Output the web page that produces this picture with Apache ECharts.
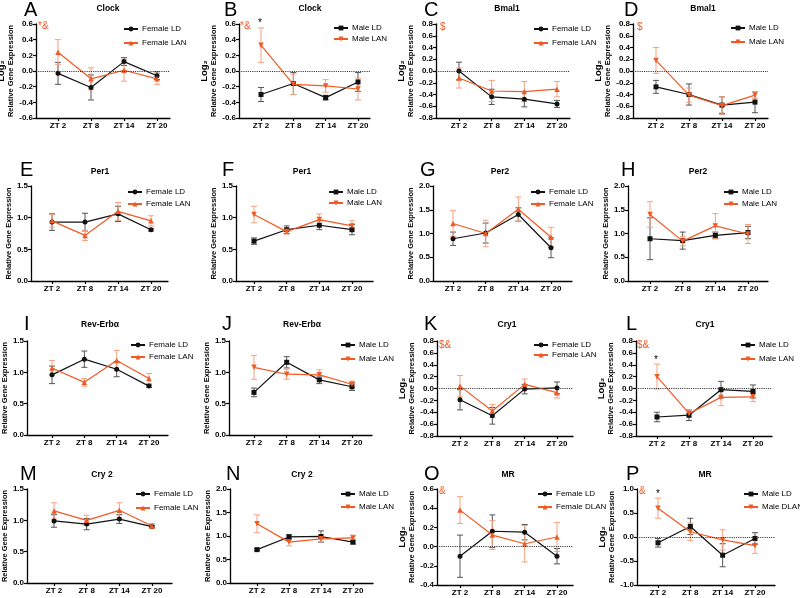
<!DOCTYPE html>
<html><head><meta charset="utf-8">
<script src="https://cdn.jsdelivr.net/npm/echarts@6/dist/echarts.min.js"></script>
<style>html,body{margin:0;padding:0;background:#fff}#c{width:800px;height:598px}</style>
</head><body><div id="c"></div>
<script>
const categories = ['ZT 2', 'ZT 8', 'ZT 14', 'ZT 20'];

// A Clock (female)
const aLD = [-0.03, -0.21, 0.12, -0.06];
const aLDErr = [0.14, 0.16, 0.05, 0.05];
const aLAN = [0.24, -0.10, 0.01, -0.10];
const aLANErr = [0.16, 0.14, 0.14, 0.07];
// B Clock (male)
const bLD = [-0.30, -0.16, -0.34, -0.14];
const bLDErr = [0.09, 0.14, 0.03, 0.12];
const bLAN = [0.33, -0.17, -0.19, -0.23];
const bLANErr = [0.22, 0.13, 0.08, 0.14];
// C Bmal1 (female)
const cLD = [0.00, -0.44, -0.48, -0.56];
const cLDErr = [0.15, 0.13, 0.13, 0.06];
const cLAN = [-0.12, -0.34, -0.35, -0.31];
const cLANErr = [0.17, 0.18, 0.17, 0.13];
// D Bmal1 (male)
const dLD = [-0.27, -0.40, -0.58, -0.53];
const dLDErr = [0.11, 0.18, 0.14, 0.18];
const dLAN = [0.18, -0.41, -0.59, -0.41];
const dLANErr = [0.22, 0.12, 0.15, 0.06];
// E Per1 (female)
const eLD = [0.93, 0.93, 1.06, 0.81];
const eLDErr = [0.13, 0.14, 0.12, 0.02];
const eLAN = [0.95, 0.72, 1.10, 0.95];
const eLANErr = [0.10, 0.08, 0.14, 0.08];
// F Per1 (male)
const fLD = [0.63, 0.81, 0.88, 0.81];
const fLDErr = [0.05, 0.06, 0.07, 0.08];
const fLAN = [1.05, 0.78, 0.97, 0.87];
const fLANErr = [0.13, 0.04, 0.09, 0.08];
// G Per2 (female)
const gLD = [0.89, 1.01, 1.40, 0.70];
const gLDErr = [0.14, 0.21, 0.14, 0.21];
const gLAN = [1.21, 1.00, 1.51, 0.92];
const gLANErr = [0.27, 0.28, 0.26, 0.21];
// H Per2 (male)
const hLD = [0.89, 0.85, 0.96, 1.02];
const hLDErr = [0.44, 0.18, 0.07, 0.13];
const hLAN = [1.40, 0.84, 1.16, 0.99];
const hLANErr = [0.27, 0.10, 0.26, 0.20];
// I Rev-Erbα (female)
const iLD = [0.96, 1.21, 1.05, 0.78];
const iLDErr = [0.14, 0.13, 0.12, 0.02];
const iLAN = [1.07, 0.84, 1.19, 0.90];
const iLANErr = [0.12, 0.06, 0.16, 0.08];
// J Rev-Erbα (male)
const jLD = [0.68, 1.16, 0.88, 0.77];
const jLDErr = [0.07, 0.09, 0.06, 0.06];
const jLAN = [1.08, 0.97, 0.96, 0.81];
const jLANErr = [0.19, 0.08, 0.08, 0.05];
// K Cry1 (female)
const kLD = [-0.19, -0.46, -0.01, 0.01];
const kLDErr = [0.17, 0.14, 0.08, 0.10];
const kLAN = [0.04, -0.38, 0.07, -0.07];
const kLANErr = [0.18, 0.11, 0.09, 0.09];
// L Cry1 (male)
const lLD = [-0.48, -0.45, -0.02, -0.05];
const lLDErr = [0.08, 0.09, 0.14, 0.11];
const lLAN = [0.20, -0.42, -0.15, -0.14];
const lLANErr = [0.21, 0.06, 0.14, 0.08];
// M Cry 2 (female)
const mLD = [0.99, 0.94, 1.02, 0.90];
const mLDErr = [0.10, 0.09, 0.07, 0.02];
const mLAN = [1.15, 1.00, 1.16, 0.91];
const mLANErr = [0.13, 0.08, 0.12, 0.04];
// N Cry 2 (male)
const nLD = [0.71, 0.98, 0.99, 0.87];
const nLDErr = [0.02, 0.05, 0.12, 0.04];
const nLAN = [1.26, 0.87, 0.94, 0.96];
const nLANErr = [0.19, 0.08, 0.06, 0.06];
// O MR (female)
const oLD = [-0.10, 0.16, 0.15, -0.10];
const oLDErr = [0.22, 0.17, 0.08, 0.08];
const oLAN = [0.38, 0.12, 0.03, 0.10];
const oLANErr = [0.14, 0.15, 0.19, 0.15];
// P MR (male)
const pLD = [-0.12, 0.22, -0.38, -0.03];
const pLDErr = [0.09, 0.17, 0.24, 0.12];
const pLAN = [0.60, 0.11, -0.06, -0.18];
const pLANErr = [0.21, 0.18, 0.21, 0.16];

const panels = [
  {letter:'A', title:'Clock', male:false, log:true, min:-0.6, max:0.6, step:0.2, ld:aLD, ldErr:aLDErr, lan:aLAN, lanErr:aLANErr, ldName:'Female LD', lanName:'Female LAN'},
  {letter:'B', title:'Clock', male:true, log:true, min:-0.6, max:0.6, step:0.2, ld:bLD, ldErr:bLDErr, lan:bLAN, lanErr:bLANErr, ldName:'Male LD', lanName:'Male LAN'},
  {letter:'C', title:'Bmal1', male:false, log:true, min:-0.8, max:0.8, step:0.2, ld:cLD, ldErr:cLDErr, lan:cLAN, lanErr:cLANErr, ldName:'Female LD', lanName:'Female LAN'},
  {letter:'D', title:'Bmal1', male:true, log:true, min:-0.8, max:0.8, step:0.2, ld:dLD, ldErr:dLDErr, lan:dLAN, lanErr:dLANErr, ldName:'Male LD', lanName:'Male LAN'},
  {letter:'E', title:'Per1', male:false, log:false, min:0, max:1.5, step:0.5, ld:eLD, ldErr:eLDErr, lan:eLAN, lanErr:eLANErr, ldName:'Female LD', lanName:'Female LAN'},
  {letter:'F', title:'Per1', male:true, log:false, min:0, max:1.5, step:0.5, ld:fLD, ldErr:fLDErr, lan:fLAN, lanErr:fLANErr, ldName:'Male LD', lanName:'Male LAN'},
  {letter:'G', title:'Per2', male:false, log:false, min:0, max:2.0, step:0.5, ld:gLD, ldErr:gLDErr, lan:gLAN, lanErr:gLANErr, ldName:'Female LD', lanName:'Female LAN'},
  {letter:'H', title:'Per2', male:true, log:false, min:0, max:2.0, step:0.5, ld:hLD, ldErr:hLDErr, lan:hLAN, lanErr:hLANErr, ldName:'Male LD', lanName:'Male LAN'},
  {letter:'I', title:'Rev-Erbα', male:false, log:false, min:0, max:1.5, step:0.5, ld:iLD, ldErr:iLDErr, lan:iLAN, lanErr:iLANErr, ldName:'Female LD', lanName:'Female LAN'},
  {letter:'J', title:'Rev-Erbα', male:true, log:false, min:0, max:1.5, step:0.5, ld:jLD, ldErr:jLDErr, lan:jLAN, lanErr:jLANErr, ldName:'Male LD', lanName:'Male LAN'},
  {letter:'K', title:'Cry1', male:false, log:true, min:-0.8, max:0.8, step:0.2, ld:kLD, ldErr:kLDErr, lan:kLAN, lanErr:kLANErr, ldName:'Female LD', lanName:'Female LAN'},
  {letter:'L', title:'Cry1', male:true, log:true, min:-0.8, max:0.8, step:0.2, ld:lLD, ldErr:lLDErr, lan:lLAN, lanErr:lLANErr, ldName:'Male LD', lanName:'Male LAN'},
  {letter:'M', title:'Cry 2', male:false, log:false, min:0, max:1.5, step:0.5, ld:mLD, ldErr:mLDErr, lan:mLAN, lanErr:mLANErr, ldName:'Female LD', lanName:'Female LAN'},
  {letter:'N', title:'Cry 2', male:true, log:false, min:0, max:2.0, step:0.5, ld:nLD, ldErr:nLDErr, lan:nLAN, lanErr:nLANErr, ldName:'Male LD', lanName:'Male LAN'},
  {letter:'O', title:'MR', male:false, log:true, min:-0.4, max:0.6, step:0.2, ld:oLD, ldErr:oLDErr, lan:oLAN, lanErr:oLANErr, ldName:'Female LD', lanName:'Female DLAN'},
  {letter:'P', title:'MR', male:true, log:true, min:-1.0, max:1.0, step:0.5, ld:pLD, ldErr:pLDErr, lan:pLAN, lanErr:pLANErr, ldName:'Male LD', lanName:'Male DLAN'}
];

// layout: grid [left, top, height, firstTickX, lastTickX, axisEndX], legend [iconLeft, row1Y, row2Y], letter [x, y], title [cx, cy]
const layout = [
  {grid:[36,24,94,58,157,170], legend:[123,29,43], letter:[24,10], title:[108,9]},
  {grid:[239,24,94,261,358,370], legend:[333,28,39], letter:[224,10], title:[310,9]},
  {grid:[436,24,94,459,557,570], legend:[533,29,43], letter:[424,10], title:[507,9]},
  {grid:[633,24,94,656,755,768], legend:[730,28,42], letter:[624,10], title:[703,9]},
  {grid:[31,186,95,52,151,168], legend:[127,192,204], letter:[20,170], title:[100,172]},
  {grid:[236,186,95,254,352,373], legend:[328,192,203], letter:[222,170], title:[302,172]},
  {grid:[433,186,95,453,551,572], legend:[530,192,204], letter:[420,170], title:[500,172]},
  {grid:[628,186,95,650,748,768], legend:[723,192,204], letter:[621,170], title:[698,172]},
  {grid:[27,341,94,52,149,168], legend:[130,345,357], letter:[24,324], title:[100,325]},
  {grid:[229,341,94,254,352,372], legend:[340,345,359], letter:[222,324], title:[302,325]},
  {grid:[437,341,95,460,557,573], legend:[533,345,355], letter:[424,324], title:[507,325]},
  {grid:[636,341,95,657,753,772], legend:[740,345,359], letter:[626,324], title:[705,325]},
  {grid:[27,489,94,54,152,172], legend:[135,494,508], letter:[20,474], title:[102,475]},
  {grid:[230,489,94,257,353,373], legend:[340,494,507], letter:[226,474], title:[302,475]},
  {grid:[437,489,96,460,557,573], legend:[537,494,507], letter:[424,474], title:[508,475]},
  {grid:[637,489,96,658,755,775], legend:[743,494,507], letter:[626,474], title:[705,475]}
];

// significance marks: [text, x, y, colour]
const marks = [
  ['*&', 38, 26, 'o'], ['*&', 240, 26, 'o'], ['*', 258, 23, 'k'],
  ['$', 440, 27, 'o'], ['$', 637, 27, 'o'],
  ['$&', 439, 345, 'o'], ['$&', 637, 345, 'o'], ['*', 654, 360, 'k'],
  ['&', 439, 491, 'o'], ['&', 639, 491, 'o'], ['*', 656, 494, 'k']
];

const FONT = 'Arial, "Liberation Sans", Helvetica, sans-serif';
const BLACK = '#111111';
const ORANGE = '#f15a24';
const BLACK_ERR = '#555555';
const ORANGE_ERR = '#f6a07e';

function errorRenderer(color) {
  return function (params, api) {
    const x = api.value(0), m = api.value(1), e = api.value(2);
    const t = api.coord([x, m + e]);
    const b = api.coord([x, m - e]);
    const hw = 3;
    const st = {stroke: color, lineWidth: 1};
    return {type: 'group', children: [
      {type: 'line', shape: {x1: t[0], y1: t[1], x2: b[0], y2: b[1]}, style: st},
      {type: 'line', shape: {x1: t[0] - hw, y1: t[1], x2: t[0] + hw, y2: t[1]}, style: st},
      {type: 'line', shape: {x1: b[0] - hw, y1: b[1], x2: b[0] + hw, y2: b[1]}, style: st}
    ]};
  };
}

const option = {
  animation: false,
  backgroundColor: '#ffffff',
  textStyle: {fontFamily: FONT},
  grid: [], xAxis: [], yAxis: [], series: [], legend: [], graphic: []
};

panels.forEach(function (p, i) {
  const L = layout[i];
  const g = L.grid;
  const left = g[0], top = g[1], h = g[2], x0 = g[3], x3 = g[4], end = g[5];
  const s = (x3 - x0) / 3;
  option.grid.push({left: left, top: top, width: end - left, height: h, outerBoundsMode: 'none', containLabel: false});
  const idx = [0, 1, 2, 3];
  option.xAxis.push({
    type: 'value', gridIndex: i, min: -(x0 - left) / s, max: 3 + (end - x3) / s,
    axisLine: {show: true, onZero: false, lineStyle: {color: '#000', width: 1.3}},
    axisTick: {show: true, customValues: idx, length: 3, lineStyle: {color: '#000', width: 1.2}},
    axisLabel: {show: true, customValues: idx, formatter: function (v) { return categories[Math.round(v)]; },
      fontSize: 8, fontWeight: 'bold', color: '#000', margin: 4, fontFamily: FONT},
    splitLine: {show: false}
  });
  const yName = p.log ? '{a|Log₂}\n{b|Relative Gene Expression}' : '{b|Relative Gene Expression}';
  option.yAxis.push({
    type: 'value', gridIndex: i, min: p.min, max: p.max, interval: p.step,
    axisLine: {show: true, onZero: false, lineStyle: {color: '#000', width: 1.3}},
    axisTick: {show: true, length: 3, lineStyle: {color: '#000', width: 1.2}},
    axisLabel: {fontSize: 8, fontWeight: 'bold', color: '#000', margin: 3, fontFamily: FONT,
      formatter: function (v) { return (Math.abs(v) < 1e-9 ? 0 : v).toFixed(1); }},
    splitLine: {show: false},
    name: yName, nameLocation: 'middle', nameRotate: 90, nameGap: 17,
    nameTextStyle: {color: '#000', fontFamily: FONT, align: 'center', rich: {
      a: {fontSize: 9.5, fontWeight: 'bold', color: '#000', lineHeight: 11, fontFamily: FONT, align: 'center'},
      b: {fontSize: 7.5, fontWeight: 'bold', color: '#000', lineHeight: 9, fontFamily: FONT, align: 'center'}
    }}
  });
  const ldSymbol = p.male ? 'rect' : 'circle';
  const ldSeries = {
    type: 'line', name: p.ldName, xAxisIndex: i, yAxisIndex: i, z: 3,
    data: p.ld.map(function (v, k) { return [k, v]; }),
    symbol: ldSymbol, symbolSize: 5, showSymbol: true,
    lineStyle: {color: BLACK, width: 1.2}, itemStyle: {color: BLACK}
  };
  if (p.log) {
    ldSeries.markLine = {silent: true, symbol: 'none', label: {show: false},
      lineStyle: {type: 'dotted', color: '#333', width: 1.1}, data: [{yAxis: 0}]};
  }
  option.series.push(ldSeries);
  option.series.push({
    type: 'line', name: p.lanName, xAxisIndex: i, yAxisIndex: i, z: 4,
    data: p.lan.map(function (v, k) { return [k, v]; }),
    symbol: 'triangle', symbolRotate: p.male ? 180 : 0, symbolSize: 5.5,
    lineStyle: {color: ORANGE, width: 1.2}, itemStyle: {color: ORANGE}
  });
  option.series.push({
    type: 'custom', name: p.ldName + ' err', xAxisIndex: i, yAxisIndex: i, z: 1, silent: true,
    renderItem: errorRenderer(BLACK_ERR), encode: {x: 0, y: 1},
    data: p.ld.map(function (v, k) { return [k, v, p.ldErr[k]]; })
  });
  option.series.push({
    type: 'custom', name: p.lanName + ' err', xAxisIndex: i, yAxisIndex: i, z: 2, silent: true,
    renderItem: errorRenderer(ORANGE_ERR), encode: {x: 0, y: 1},
    data: p.lan.map(function (v, k) { return [k, v, p.lanErr[k]]; })
  });
  const lg = L.legend;
  option.legend.push({
    data: [p.ldName, p.lanName], orient: 'vertical', left: lg[0], top: lg[1] - 4,
    itemWidth: 14, itemHeight: 6, itemGap: lg[2] - lg[1] - 8, padding: 0, selectedMode: false,
    textStyle: {fontSize: 8, color: '#000', fontFamily: FONT, padding: [0, 0, 0, -1]}
  });
  option.graphic.push({type: 'text', x: L.letter[0], y: L.letter[1], silent: true,
    style: {text: p.letter, font: '20px ' + FONT, fill: '#000', textAlign: 'left', textVerticalAlign: 'middle', align: 'left', verticalAlign: 'middle'}});
  option.graphic.push({type: 'text', x: L.title[0], y: L.title[1], silent: true,
    style: {text: p.title, font: 'bold 8.5px ' + FONT, fill: '#000', textAlign: 'center', textVerticalAlign: 'middle', align: 'center', verticalAlign: 'middle'}});
});

marks.forEach(function (m) {
  option.graphic.push({type: 'text', x: m[1], y: m[2], silent: true,
    style: {text: m[0], font: '10px ' + FONT, fill: m[3] === 'o' ? ORANGE : '#000', textAlign: 'left', textVerticalAlign: 'middle', align: 'left', verticalAlign: 'middle'}});
});

const chart = echarts.init(document.getElementById('c'), null, {renderer: 'canvas'});
chart.setOption(option);
</script>
</body></html>
